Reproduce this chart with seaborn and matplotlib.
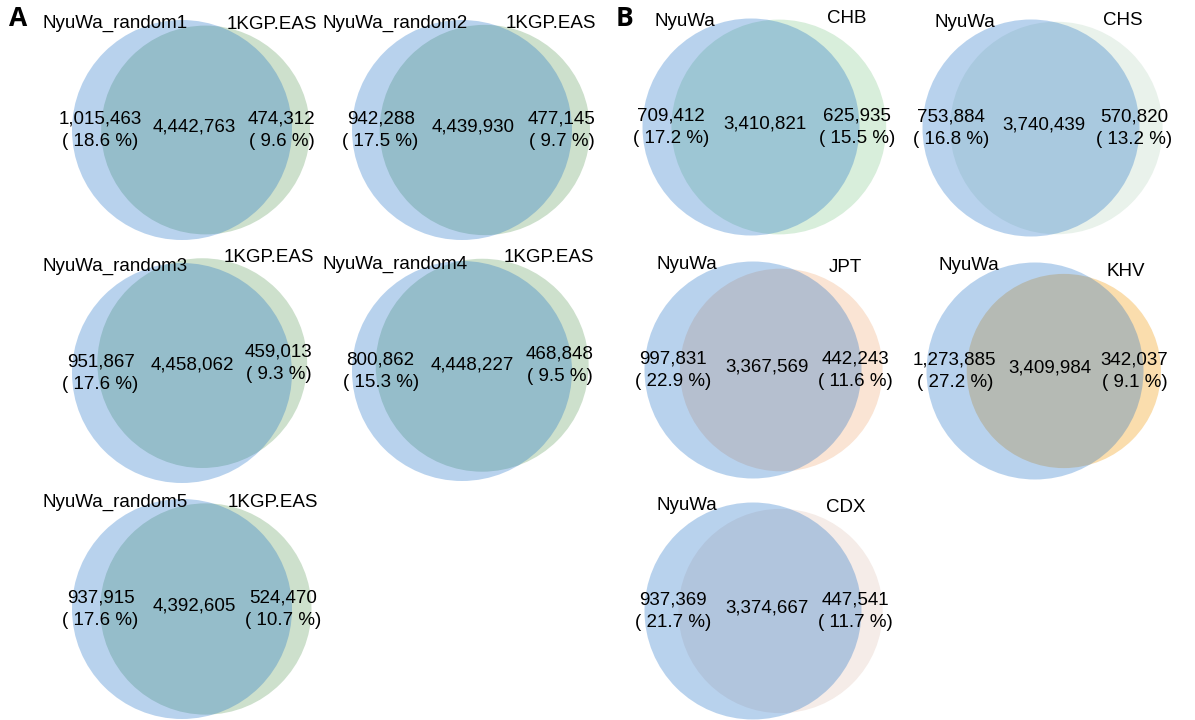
import numpy as np
import matplotlib
matplotlib.use("Agg")
import matplotlib.pyplot as plt
from matplotlib.patches import Circle
import seaborn as sns

# Panel A: random NyuWa subsets vs 1KGP East Asians
a_left_names = ["NyuWa_random1", "NyuWa_random2", "NyuWa_random3",
                "NyuWa_random4", "NyuWa_random5"]
a_right_names = ["1KGP.EAS"] * 5
a_left_only = [1015463, 942288, 951867, 800862, 937915]
a_shared = [4442763, 4439930, 4458062, 4448227, 4392605]
a_right_only = [474312, 477145, 459013, 468848, 524470]

# Panel B: full NyuWa vs individual East Asian populations
b_left_names = ["NyuWa"] * 5
b_right_names = ["CHB", "CHS", "JPT", "KHV", "CDX"]
b_left_only = [709412, 753884, 997831, 1273885, 937369]
b_shared = [3410821, 3740439, 3367569, 3409984, 3374667]
b_right_only = [625935, 570820, 442243, 342037, 447541]

# light fill of the second set in each diagram
a_right_colors = ["#CDE0CC"] * 5
b_right_colors = ["#D8EEDB", "#E9F2EB", "#FAE4D4", "#FADDAD", "#F5ECE8"]
LEFT_COLOR = "#166CC6"
LEFT_ALPHA = 0.30

# layout (figure pixels, y down): centre of first circle, its radius, axis tilt
a_centres = [(182, 130), (462, 130), (182, 373), (462, 371), (182, 609)]
a_tilts = [0, 0, 26, 16, 0]
b_centres = [(751, 127), (1031, 128), (753, 370), (1035, 371), (753, 611)]
b_tilts = [0, 0, 0, 0, 0]
A_RADIUS = 110
B_RADIUS = 108.5

W, H = 1195, 720
FS = 13.5


def lens_area(r1, r2, d):
    if d >= r1 + r2:
        return 0.0
    if d <= abs(r1 - r2):
        return np.pi * min(r1, r2) ** 2
    a1 = np.arccos((d * d + r1 * r1 - r2 * r2) / (2 * d * r1))
    a2 = np.arccos((d * d + r2 * r2 - r1 * r1) / (2 * d * r2))
    k = np.sqrt((-d + r1 + r2) * (d + r1 - r2) * (d - r1 + r2) * (d + r1 + r2))
    return r1 * r1 * a1 + r2 * r2 * a2 - 0.5 * k


def centre_distance(r1, r2, area):
    lo, hi = abs(r1 - r2), r1 + r2
    for _ in range(200):
        mid = 0.5 * (lo + hi)
        if lens_area(r1, r2, mid) > area:
            lo = mid
        else:
            hi = mid
    return 0.5 * (lo + hi)


def fmt(n):
    return f"{n:,}"


def draw_venn(ax, centre, radius, tilt, name1, name2, only1, both, only2, color2):
    tot1 = only1 + both
    tot2 = only2 + both
    r1 = radius
    r2 = radius * np.sqrt(tot2 / tot1)
    overlap_px = both / tot1 * np.pi * r1 ** 2
    d = centre_distance(r1, r2, overlap_px)
    t = np.deg2rad(tilt)
    x1, y1 = centre
    x2, y2 = x1 + d * np.cos(t), y1 - d * np.sin(t)

    ax.add_patch(Circle((x2, y2), r2, facecolor=color2, edgecolor="none", zorder=1))
    ax.add_patch(Circle((x1, y1), r1, facecolor=LEFT_COLOR, alpha=LEFT_ALPHA,
                        edgecolor="none", zorder=2))

    p1 = 100 * only1 / tot1
    p2 = 100 * only2 / tot2
    kw = dict(ha="center", va="center", fontsize=FS, color="black", zorder=3)
    ax.text(x1 - r1 + 0.26 * r1, y1, f"{fmt(only1)}\n( {p1:.1f} %)",
            linespacing=1.45, **kw)
    ax.text(x2 + r2 - 0.27 * r2, y2, f"{fmt(only2)}\n( {p2:.1f} %)",
            linespacing=1.45, **kw)
    ax.text(0.5 * (x1 + x2), 0.5 * (y1 + y2) - 3, fmt(both), **kw)

    ang = np.deg2rad(32)
    ax.text(x1 - (r1 + 16) * np.sin(ang), y1 - (r1 + 16) * np.cos(ang), name1, **kw)
    ax.text(x2 + (r2 + 20) * np.sin(ang), y2 - (r2 + 20) * np.cos(ang), name2, **kw)


sns.set_theme(style="white")
plt.rcParams["font.family"] = ["Liberation Sans", "DejaVu Sans"]

fig = plt.figure(figsize=(W / 100, H / 100), dpi=100)
ax = fig.add_axes([0, 0, 1, 1])
ax.set_xlim(0, W)
ax.set_ylim(H, 0)
ax.set_axis_off()

for i in range(5):
    draw_venn(ax, a_centres[i], A_RADIUS, a_tilts[i], a_left_names[i], a_right_names[i],
              a_left_only[i], a_shared[i], a_right_only[i], a_right_colors[i])
    draw_venn(ax, b_centres[i], B_RADIUS, b_tilts[i], b_left_names[i], b_right_names[i],
              b_left_only[i], b_shared[i], b_right_only[i], b_right_colors[i])

for letter, x in (("A", 18), ("B", 625)):
    ax.text(x, 19, letter, ha="center", va="center", fontsize=19, fontweight="bold",
            color="black", family=["Open Sans", "DejaVu Sans"])

fig.savefig("out.png", dpi=100, facecolor="white")
